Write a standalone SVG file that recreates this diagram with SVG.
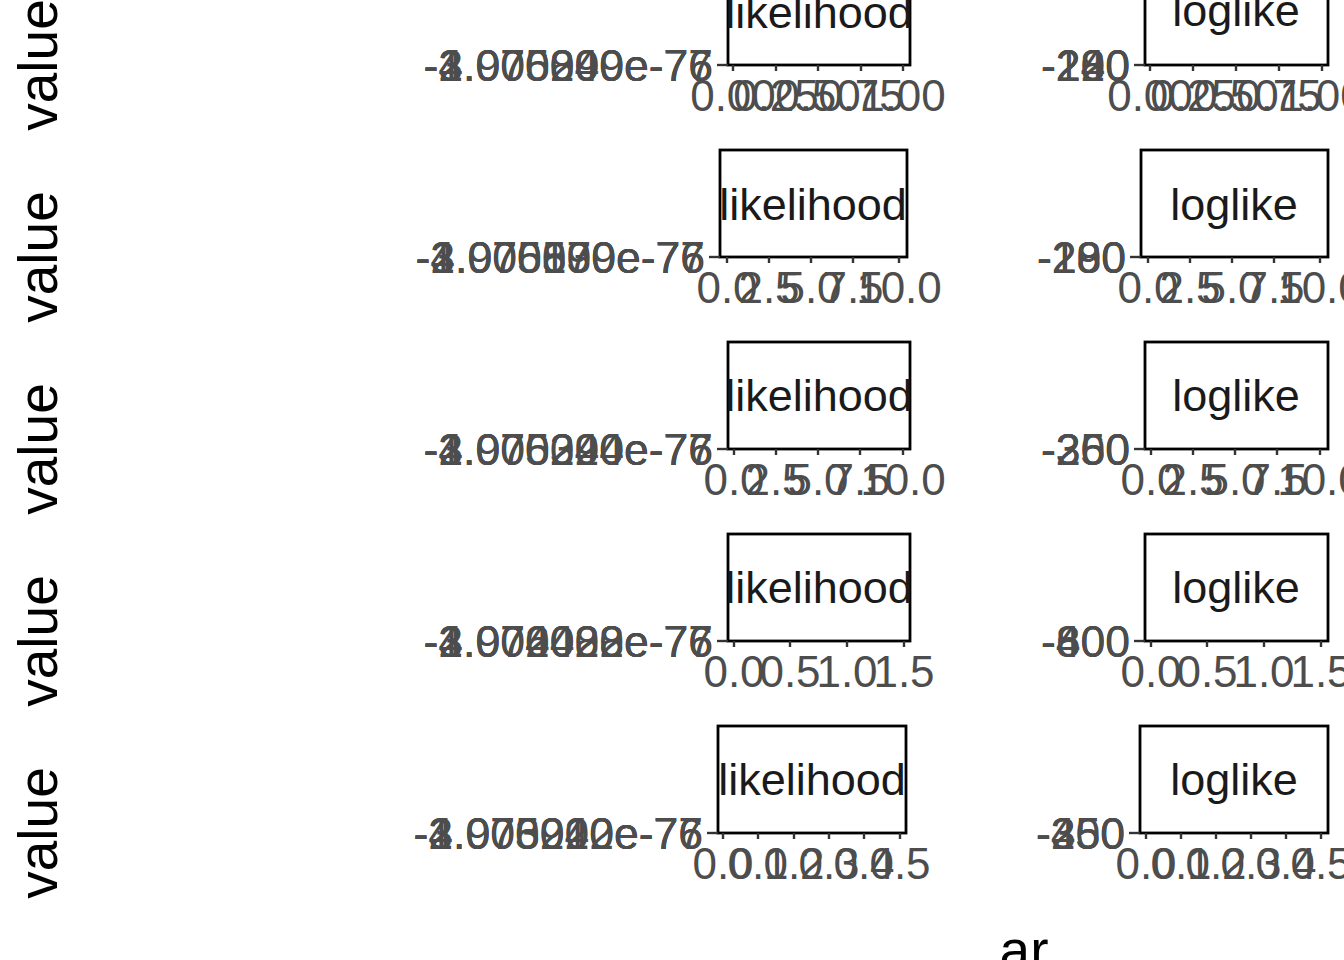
<svg xmlns="http://www.w3.org/2000/svg" width="1344" height="960" viewBox="0 0 1344 960">
<style>
.bg{fill:#ffffff}
.strip{fill:#ffffff;stroke:#000000;stroke-width:2.8}
.st{font-family:"Liberation Sans",Arial,sans-serif;font-size:45px;fill:#1a1a1a;text-anchor:middle}
.tick{stroke:#333333;stroke-width:2.4}
.xl{font-family:"Liberation Sans",Arial,sans-serif;font-size:44px;fill:#4d4d4d;text-anchor:middle}
.yl{font-family:"Liberation Sans",Arial,sans-serif;font-size:44.5px;fill:#4d4d4d;text-anchor:end}
.title{font-family:"Liberation Sans",Arial,sans-serif;font-size:55px;fill:#000000;text-anchor:middle}
</style>
<rect class="bg" x="0" y="0" width="1344" height="960"/>

<g id="axis-titles">
<text class="title" transform="translate(57,65) rotate(-90)">value</text>
<text class="title" transform="translate(57,257) rotate(-90)">value</text>
<text class="title" transform="translate(57,449) rotate(-90)">value</text>
<text class="title" transform="translate(57,641) rotate(-90)">value</text>
<text class="title" transform="translate(57,833) rotate(-90)">value</text>
<text class="title" x="1024" y="969">ar</text>
</g>

<!-- Row 1 -->
<g id="panel-likelihood-1">
<rect class="strip" x="728" y="-41" width="182" height="106"/>
<text class="st" x="819" y="28">likelihood</text>
<line class="tick" x1="717" y1="65" x2="728" y2="65"/>
<text class="yl" x="713" y="81">-4.976249e-76</text>
<text class="yl" x="713" y="81">-1.000000e-77</text>
<text class="yl" x="713" y="81">-2.005000e-76</text>
<text class="yl" x="713" y="81">-3.070890e-76</text>
<g class="tick"><line x1="733" y1="65" x2="733" y2="71"/><line x1="776" y1="65" x2="776" y2="71"/><line x1="818" y1="65" x2="818" y2="71"/><line x1="861" y1="65" x2="861" y2="71"/><line x1="903" y1="65" x2="903" y2="71"/></g>
<text class="xl" x="733" y="111">0.00</text><text class="xl" x="776" y="111">0.25</text><text class="xl" x="818" y="111">0.50</text><text class="xl" x="861" y="111">0.75</text><text class="xl" x="903" y="111">1.00</text>
</g>
<g id="panel-loglike-1">
<rect class="strip" x="1145" y="-41" width="183" height="106"/>
<text class="st" x="1236" y="26">loglike</text>
<line class="tick" x1="1134" y1="65" x2="1145" y2="65"/>
<text class="yl" x="1130" y="81">-240</text>
<text class="yl" x="1130" y="81">-220</text>
<text class="yl" x="1130" y="81">-200</text>
<text class="yl" x="1130" y="81">-180</text>
<g class="tick"><line x1="1150" y1="65" x2="1150" y2="71"/><line x1="1193" y1="65" x2="1193" y2="71"/><line x1="1236" y1="65" x2="1236" y2="71"/><line x1="1279" y1="65" x2="1279" y2="71"/><line x1="1322" y1="65" x2="1322" y2="71"/></g>
<text class="xl" x="1150" y="111">0.00</text><text class="xl" x="1193" y="111">0.25</text><text class="xl" x="1236" y="111">0.50</text><text class="xl" x="1279" y="111">0.75</text><text class="xl" x="1322" y="111">1.00</text>
</g>

<!-- Row 2 -->
<g id="panel-likelihood-2">
<rect class="strip" x="720" y="150" width="187" height="107"/>
<text class="st" x="813" y="220">likelihood</text>
<line class="tick" x1="709" y1="257" x2="720" y2="257"/>
<text class="yl" x="705" y="273">-4.976579e-76</text>
<text class="yl" x="705" y="273">-1.000000e-77</text>
<text class="yl" x="705" y="273">-2.005190e-76</text>
<text class="yl" x="705" y="273">-3.070830e-76</text>
<g class="tick"><line x1="727" y1="257" x2="727" y2="263"/><line x1="769" y1="257" x2="769" y2="263"/><line x1="811" y1="257" x2="811" y2="263"/><line x1="853" y1="257" x2="853" y2="263"/><line x1="899" y1="257" x2="899" y2="263"/></g>
<text class="xl" x="727" y="303">0.0</text><text class="xl" x="769" y="303">2.5</text><text class="xl" x="811" y="303">5.0</text><text class="xl" x="853" y="303">7.5</text><text class="xl" x="899" y="303">10.0</text>
</g>
<g id="panel-loglike-2">
<rect class="strip" x="1141" y="150" width="187" height="107"/>
<text class="st" x="1234" y="220">loglike</text>
<line class="tick" x1="1130" y1="257" x2="1141" y2="257"/>
<text class="yl" x="1126" y="273">-280</text>
<text class="yl" x="1126" y="273">-200</text>
<text class="yl" x="1126" y="273">-190</text>
<text class="yl" x="1126" y="273">-180</text>
<g class="tick"><line x1="1148" y1="257" x2="1148" y2="263"/><line x1="1190" y1="257" x2="1190" y2="263"/><line x1="1232" y1="257" x2="1232" y2="263"/><line x1="1274" y1="257" x2="1274" y2="263"/><line x1="1320" y1="257" x2="1320" y2="263"/></g>
<text class="xl" x="1148" y="303">0.0</text><text class="xl" x="1190" y="303">2.5</text><text class="xl" x="1232" y="303">5.0</text><text class="xl" x="1274" y="303">7.5</text><text class="xl" x="1320" y="303">10.0</text>
</g>

<!-- Row 3 -->
<g id="panel-likelihood-3">
<rect class="strip" x="728" y="342" width="182" height="107"/>
<text class="st" x="819" y="411">likelihood</text>
<line class="tick" x1="717" y1="449" x2="728" y2="449"/>
<text class="yl" x="713" y="465">-4.976244e-76</text>
<text class="yl" x="713" y="465">-1.000000e-77</text>
<text class="yl" x="713" y="465">-2.005290e-76</text>
<text class="yl" x="713" y="465">-3.070320e-76</text>
<g class="tick"><line x1="734" y1="449" x2="734" y2="455"/><line x1="776" y1="449" x2="776" y2="455"/><line x1="818" y1="449" x2="818" y2="455"/><line x1="860" y1="449" x2="860" y2="455"/><line x1="903" y1="449" x2="903" y2="455"/></g>
<text class="xl" x="734" y="495">0.0</text><text class="xl" x="776" y="495">2.5</text><text class="xl" x="818" y="495">5.0</text><text class="xl" x="860" y="495">7.5</text><text class="xl" x="903" y="495">10.0</text>
</g>
<g id="panel-loglike-3">
<rect class="strip" x="1145" y="342" width="183" height="107"/>
<text class="st" x="1236" y="411">loglike</text>
<line class="tick" x1="1134" y1="449" x2="1145" y2="449"/>
<text class="yl" x="1130" y="465">-350</text>
<text class="yl" x="1130" y="465">-300</text>
<text class="yl" x="1130" y="465">-250</text>
<text class="yl" x="1130" y="465">-260</text>
<g class="tick"><line x1="1151" y1="449" x2="1151" y2="455"/><line x1="1193" y1="449" x2="1193" y2="455"/><line x1="1235" y1="449" x2="1235" y2="455"/><line x1="1277" y1="449" x2="1277" y2="455"/><line x1="1320" y1="449" x2="1320" y2="455"/></g>
<text class="xl" x="1151" y="495">0.0</text><text class="xl" x="1193" y="495">2.5</text><text class="xl" x="1235" y="495">5.0</text><text class="xl" x="1277" y="495">7.5</text><text class="xl" x="1320" y="495">10.0</text>
</g>

<!-- Row 4 -->
<g id="panel-likelihood-4">
<rect class="strip" x="728" y="534" width="182" height="107"/>
<text class="st" x="819" y="603">likelihood</text>
<line class="tick" x1="717" y1="641" x2="728" y2="641"/>
<text class="yl" x="713" y="657">-4.976022e-76</text>
<text class="yl" x="713" y="657">-1.000000e-77</text>
<text class="yl" x="713" y="657">-2.004088e-76</text>
<text class="yl" x="713" y="657">-3.072428e-76</text>
<g class="tick"><line x1="734" y1="641" x2="734" y2="647"/><line x1="790" y1="641" x2="790" y2="647"/><line x1="847" y1="641" x2="847" y2="647"/><line x1="904" y1="641" x2="904" y2="647"/></g>
<text class="xl" x="734" y="687">0.0</text><text class="xl" x="790" y="687">0.5</text><text class="xl" x="847" y="687">1.0</text><text class="xl" x="904" y="687">1.5</text>
</g>
<g id="panel-loglike-4">
<rect class="strip" x="1145" y="534" width="183" height="107"/>
<text class="st" x="1236" y="603">loglike</text>
<line class="tick" x1="1134" y1="641" x2="1145" y2="641"/>
<text class="yl" x="1130" y="657">-800</text>
<text class="yl" x="1130" y="657">-600</text>
<text class="yl" x="1130" y="657">-400</text>
<g class="tick"><line x1="1151" y1="641" x2="1151" y2="647"/><line x1="1207" y1="641" x2="1207" y2="647"/><line x1="1264" y1="641" x2="1264" y2="647"/><line x1="1321" y1="641" x2="1321" y2="647"/></g>
<text class="xl" x="1151" y="687">0.0</text><text class="xl" x="1207" y="687">0.5</text><text class="xl" x="1264" y="687">1.0</text><text class="xl" x="1321" y="687">1.5</text>
</g>

<!-- Row 5 -->
<g id="panel-likelihood-5">
<rect class="strip" x="718" y="726" width="188" height="107"/>
<text class="st" x="812" y="795">likelihood</text>
<line class="tick" x1="707" y1="833" x2="718" y2="833"/>
<text class="yl" x="703" y="849">-4.976242e-76</text>
<text class="yl" x="703" y="849">-1.000000e-77</text>
<text class="yl" x="703" y="849">-2.005910e-76</text>
<text class="yl" x="703" y="849">-3.073020e-76</text>
<g class="tick"><line x1="723" y1="833" x2="723" y2="839"/><line x1="758" y1="833" x2="758" y2="839"/><line x1="794" y1="833" x2="794" y2="839"/><line x1="829" y1="833" x2="829" y2="839"/><line x1="864" y1="833" x2="864" y2="839"/><line x1="900" y1="833" x2="900" y2="839"/></g>
<text class="xl" x="723" y="879">0.0</text><text class="xl" x="758" y="879">0.1</text><text class="xl" x="794" y="879">0.2</text><text class="xl" x="829" y="879">0.3</text><text class="xl" x="864" y="879">0.4</text><text class="xl" x="900" y="879">0.5</text>
</g>
<g id="panel-loglike-5">
<rect class="strip" x="1140" y="726" width="188" height="107"/>
<text class="st" x="1234" y="795">loglike</text>
<line class="tick" x1="1129" y1="833" x2="1140" y2="833"/>
<text class="yl" x="1125" y="849">-450</text>
<text class="yl" x="1125" y="849">-350</text>
<text class="yl" x="1125" y="849">-250</text>
<text class="yl" x="1125" y="849">-300</text>
<g class="tick"><line x1="1146" y1="833" x2="1146" y2="839"/><line x1="1181" y1="833" x2="1181" y2="839"/><line x1="1216" y1="833" x2="1216" y2="839"/><line x1="1251" y1="833" x2="1251" y2="839"/><line x1="1286" y1="833" x2="1286" y2="839"/><line x1="1321" y1="833" x2="1321" y2="839"/></g>
<text class="xl" x="1146" y="879">0.0</text><text class="xl" x="1181" y="879">0.1</text><text class="xl" x="1216" y="879">0.2</text><text class="xl" x="1251" y="879">0.3</text><text class="xl" x="1286" y="879">0.4</text><text class="xl" x="1321" y="879">0.5</text>
</g>
</svg>
